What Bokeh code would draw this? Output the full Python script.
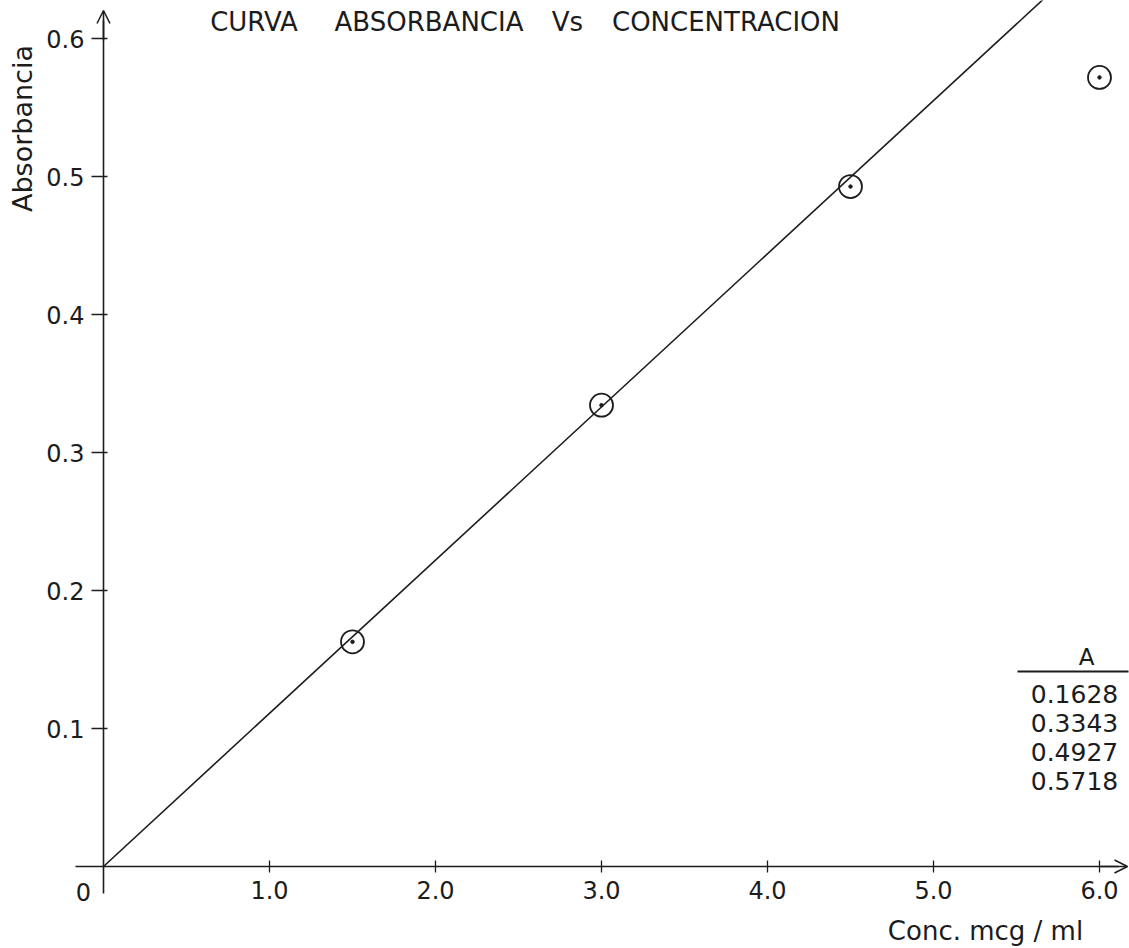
import math

from bokeh.embed import file_html
from bokeh.models import Arrow, FixedTicker, Label, OpenHead, PrintfTickFormatter, Range1d
from bokeh.plotting import figure
from bokeh.resources import INLINE

# Calibration data: concentration (mcg/ml) and measured absorbance
CONC = [1.5, 3.0, 4.5, 6.0]
ABS = [0.1628, 0.3343, 0.4927, 0.5718]

# Straight calibration line through the origin
FIT_SLOPE = 0.111
FIT_X = [0.0, 6.0]

X_TICKS = [1.0, 2.0, 3.0, 4.0, 5.0, 6.0]
Y_TICKS = [0.1, 0.2, 0.3, 0.4, 0.5, 0.6]

TITLE_WORDS = ["CURVA", "ABSORBANCIA", "Vs", "CONCENTRACION"]
TABLE_HEADER = "A"
X_LABEL = "Conc. mcg / ml"
Y_LABEL = "Absorbancia"

W, H = 1129, 948
X0_PX, Y0_PX = 103, 866         # canvas position of the origin
PX_X = 166.0                    # pixels per mcg/ml
PX_Y = 1380.0                   # pixels per absorbance unit

INK = "#1c1c1c"
FONT = "DejaVu Sans"


def dx(px):
    return (px - X0_PX) / PX_X


def dy(py):
    return (Y0_PX - py) / PX_Y


p = figure(
    width=W, height=H,
    x_range=Range1d(dx(0), dx(W)),
    y_range=Range1d(dy(H), dy(0)),
    output_backend="svg", toolbar_location=None,
    min_border=0,
)
p.outline_line_color = None
p.grid.visible = False
p.background_fill_color = "white"
p.border_fill_color = "white"

# Axes through the origin, with ticks crossing the axis line
xa = p.xaxis[0]
xa.fixed_location = 0
xa.ticker = FixedTicker(ticks=X_TICKS)
xa.formatter = PrintfTickFormatter(format="%.1f")
xa.bounds = (dx(75), dx(1118))
xa.major_tick_in = 6
xa.major_tick_out = 6
xa.minor_tick_line_color = None
xa.major_label_standoff = 8

ya = p.yaxis[0]
ya.fixed_location = 0
ya.ticker = FixedTicker(ticks=Y_TICKS)
ya.formatter = PrintfTickFormatter(format="%.1f")
ya.bounds = (dy(893), dy(20))
ya.major_tick_in = 4
ya.major_tick_out = 12
ya.minor_tick_line_color = None
ya.major_label_standoff = 7

for ax in (xa, ya):
    ax.axis_line_color = INK
    ax.axis_line_width = 1.6
    ax.major_tick_line_color = INK
    ax.major_tick_line_width = 1.3
    ax.major_label_text_font = FONT
    ax.major_label_text_font_size = "24px"
    ax.major_label_text_color = INK

# Arrow heads at the ends of both axes
p.add_layout(Arrow(end=OpenHead(size=13, line_width=1.5, line_color=INK),
                   x_start=0, y_start=dy(40), x_end=0, y_end=dy(10),
                   line_color=INK, line_width=1.6))
p.add_layout(Arrow(end=OpenHead(size=13, line_width=1.5, line_color=INK),
                   x_start=dx(1100), y_start=0, x_end=dx(1127), y_end=0,
                   line_color=INK, line_width=1.6))

# Calibration line and measured points
p.line(FIT_X, [FIT_SLOPE * x for x in FIT_X], line_color=INK, line_width=1.6)
p.scatter(CONC, ABS, marker="circle", size=23, fill_color=None,
          line_color=INK, line_width=1.8)
p.scatter(CONC, ABS, marker="circle", size=3.5, fill_color=INK, line_color=INK)


def label(px, py, text, size, align="center", angle=0.0):
    p.add_layout(Label(x=dx(px), y=dy(py), text=text, angle=angle,
                       text_align=align, text_baseline="middle",
                       text_font=FONT, text_font_size=size, text_color=INK))


# Title, one word at a time to keep the wide lettering
for word, cx in zip(TITLE_WORDS, [253.5, 428.5, 567.0, 725.5]):
    label(cx, 21, word, "26px")

label(83, 891, "0", "24px")
label(985, 930, X_LABEL, "26px")
label(22, 128, Y_LABEL, "27px", angle=math.pi / 2)

# Absorbance table in the lower right corner
label(1086, 656, TABLE_HEADER, "23px")
p.segment(x0=[dx(1017)], y0=[dy(671)], x1=[dx(1128)], y1=[dy(671)],
          line_color=INK, line_width=1.8)
for i, a in enumerate(ABS):
    label(1074, 693 + 29 * i, f"{a:.4f}", "25px")

open("out.html", "w").write(file_html(p, INLINE))
